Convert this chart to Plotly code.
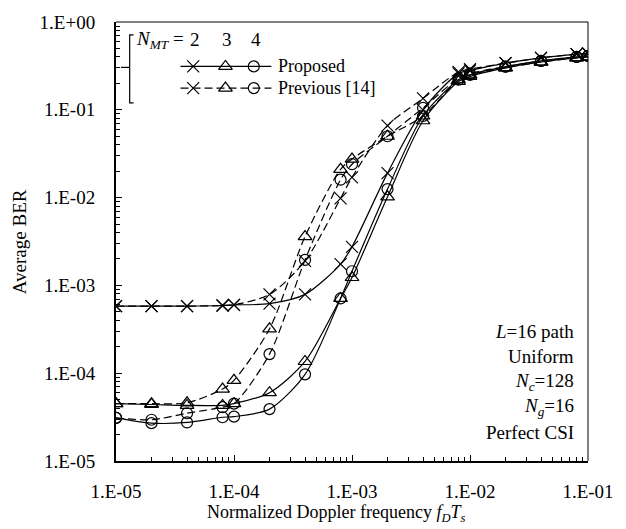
import plotly.graph_objects as go

# ---------------- data ----------------
fdts = [1e-5, 2e-5, 4e-5, 8e-5, 1e-4, 2e-4, 4e-4, 8e-4, 1e-3, 2e-3, 4e-3,
        8e-3, 1e-2, 2e-2, 4e-2, 8e-2, 1e-1]

prop_n2 = [5.8e-4, 5.8e-4, 5.8e-4, 5.9e-4, 6.0e-4, 6.2e-4, 7.9e-4, 1.75e-3, 2.75e-3,
           1.9e-2, 0.10, 0.26, 0.28, 0.34, 0.39, 0.43, 0.44]
prop_n3 = [4.5e-5, 4.4e-5, 4.3e-5, 4.3e-5, 4.5e-5, 6.0e-5, 1.36e-4, 7.1e-4, 1.23e-3,
           1.02e-2, 0.075, 0.21, 0.24, 0.30, 0.35, 0.39, 0.40]
prop_n4 = [3.1e-5, 2.7e-5, 2.75e-5, 3.15e-5, 3.2e-5, 3.9e-5, 9.7e-5, 7.1e-4, 1.45e-3,
           1.25e-2, 0.085, 0.22, 0.25, 0.31, 0.36, 0.40, 0.41]

prev_n2 = [5.8e-4, 5.8e-4, 5.8e-4, 5.9e-4, 6.0e-4, 7.9e-4, 1.9e-3, 9.8e-3, 1.7e-2,
           6.6e-2, 0.135, 0.27, 0.29, 0.34, 0.39, 0.43, 0.44]
prev_n3 = [4.5e-5, 4.5e-5, 4.6e-5, 6.6e-5, 8.3e-5, 3.2e-4, 3.6e-3, 2.1e-2, 2.75e-2,
           5.0e-2, 0.085, 0.22, 0.25, 0.30, 0.35, 0.39, 0.40]
prev_n4 = [3.1e-5, 2.95e-5, 3.5e-5, 4.1e-5, 4.5e-5, 1.65e-4, 1.95e-3, 1.6e-2, 2.4e-2,
           5.0e-2, 0.105, 0.23, 0.26, 0.31, 0.36, 0.40, 0.41]

x_tickvals = [1e-5, 1e-4, 1e-3, 1e-2, 1e-1]
x_ticktext = ["1.E-05", "1.E-04", "1.E-03", "1.E-02", "1.E-01"]
y_tickvals = [1e-5, 1e-4, 1e-3, 1e-2, 1e-1, 1]
y_ticktext = ["1.E-05", "1.E-04", "1.E-03", "1.E-02", "1.E-01", "1.E+00"]

nmt_labels = ["2", "3", "4"]
row_labels = ["Proposed", "Previous [14]"]
info_lines = ["<i>L</i>=16 path", "Uniform", "<i>N</i><sub><i>c</i></sub>=128",
              "<i>N</i><sub><i>g</i></sub>=16", "Perfect CSI"]

# ---------------- styling ----------------
FONT = "Liberation Serif"
W, H = 626, 529
ML, MR, MT_, MB = 116, 27, 16, 68
PW, PH = W - ML - MR, H - MT_ - MB
DASH = "8px,4px"

symbols = ["x-thin-open", "triangle-up-open", "circle-open"]
msizes = [12, 12, 11]

fig = go.Figure()

series = [
    (prop_n2, 0, "solid"), (prop_n3, 1, "solid"), (prop_n4, 2, "solid"),
    (prev_n2, 0, DASH), (prev_n3, 1, DASH), (prev_n4, 2, DASH),
]
for ys, k, dash in series:
    fig.add_trace(go.Scatter(
        x=fdts, y=ys, mode="lines+markers",
        line=dict(color="black", width=1.2, dash=dash, shape="spline", smoothing=0.8),
        marker=dict(symbol=symbols[k], size=msizes[k], color="black",
                    line=dict(color="black", width=1.2)),
        showlegend=False, hoverinfo="skip",
    ))

# ---------------- legend (drawn on a pixel-unit overlay axis) ----------------
leg_rows_y = [45, 67]
leg_line_x = [66, 159]
leg_mark_x = [79, 112, 141]
for r, dash in enumerate(["solid", DASH]):
    fig.add_trace(go.Scatter(
        x=leg_line_x, y=[leg_rows_y[r]] * 2, mode="lines",
        line=dict(color="black", width=1.2, dash=dash),
        xaxis="x2", yaxis="y2", showlegend=False, hoverinfo="skip"))
    for k in range(3):
        fig.add_trace(go.Scatter(
            x=[leg_mark_x[k]], y=[leg_rows_y[r]], mode="markers",
            marker=dict(symbol=symbols[k], size=msizes[k], color="black",
                        line=dict(color="black", width=1.2)),
            xaxis="x2", yaxis="y2", showlegend=False, hoverinfo="skip"))

annotations = []
for r, lab in enumerate(row_labels):
    annotations.append(dict(x=164, y=leg_rows_y[r], xref="x2", yref="y2", text=lab,
                            showarrow=False, xanchor="left", yanchor="middle",
                            font=dict(family=FONT, size=18, color="black")))
annotations.append(dict(x=72, y=18, xref="x2", yref="y2",
                        text="<i>N</i><sub><i>MT</i></sub> =", showarrow=False,
                        xanchor="right", yanchor="middle",
                        font=dict(family=FONT, size=19, color="black")))
for k, lab in enumerate(nmt_labels):
    annotations.append(dict(x=leg_mark_x[k] + 2, y=18, xref="x2", yref="y2", text=lab,
                            showarrow=False, xanchor="center", yanchor="middle",
                            font=dict(family=FONT, size=19, color="black")))

# info text block
for i, t in enumerate(info_lines):
    annotations.append(dict(x=PW - 12, y=314 + i * 25.5, xref="x2", yref="y2", text=t,
                            showarrow=False, xanchor="right", yanchor="middle",
                            font=dict(family=FONT, size=19, color="black")))

# axis titles (pixel positions converted to paper coordinates)
annotations.append(dict(x=(342 - ML) / PW, y=-(514 - MT_ - PH) / PH,
                        xref="paper", yref="paper",
                        text="Normalized Doppler frequency <i>f</i><sub><i>D</i></sub><i>T</i><sub><i>s</i></sub>",
                        showarrow=False, xanchor="center", yanchor="middle",
                        font=dict(family=FONT, size=18, color="black")))
annotations.append(dict(x=(18 - ML) / PW, y=1 - (239 - MT_) / PH,
                        xref="paper", yref="paper", text="Average BER",
                        textangle=-90, showarrow=False, xanchor="center", yanchor="middle",
                        font=dict(family=FONT, size=19, color="black")))

shapes = [
    # top and right frame lines (thin)
    dict(type="line", xref="paper", yref="paper", x0=0, x1=1, y0=1, y1=1,
         line=dict(color="black", width=1)),
    dict(type="line", xref="paper", yref="paper", x0=1, x1=1, y0=0, y1=1,
         line=dict(color="black", width=1)),
    # legend bracket
    dict(type="path", xref="x2", yref="y2",
         path="M 18 13 L 14 13 L 14 82 L 18 82", line=dict(color="black", width=1.2)),
    dict(type="line", xref="x2", yref="y2", x0=5, x1=14, y0=46, y1=46,
         line=dict(color="black", width=1.2)),
]

minor_vals = [m * 10 ** e for e in range(-5, 0) for m in range(2, 10)]

fig.update_layout(
    width=W, height=H, autosize=False,
    margin=dict(l=ML, r=MR, t=MT_, b=MB, pad=0),
    paper_bgcolor="white", plot_bgcolor="white",
    font=dict(family=FONT, size=19, color="black"),
    xaxis=dict(type="log", range=[-5, -1], tickvals=x_tickvals, ticktext=x_ticktext,
               ticks="inside", ticklen=6, tickwidth=1, tickcolor="black",
               showline=True, linewidth=2, linecolor="black", mirror=False,
               showgrid=False, zeroline=False, ticklabelstandoff=12,
               tickfont=dict(family=FONT, size=19, color="black"),
               minor=dict(tickvals=minor_vals, ticks="inside", ticklen=4,
                          tickcolor="black", tickwidth=1, showgrid=False)),
    yaxis=dict(type="log", range=[-5, 0], tickvals=y_tickvals, ticktext=y_ticktext,
               ticks="inside", ticklen=6, tickwidth=1, tickcolor="black",
               showline=True, linewidth=2, linecolor="black", mirror=False,
               showgrid=False, zeroline=False, ticklabelstandoff=15,
               tickfont=dict(family=FONT, size=19, color="black"),
               minor=dict(tickvals=minor_vals, ticks="inside",
                          ticklen=4, tickcolor="black", tickwidth=1, showgrid=False)),
    xaxis2=dict(range=[0, PW], overlaying="x", visible=False, fixedrange=True),
    yaxis2=dict(range=[PH, 0], overlaying="y", visible=False, fixedrange=True),
    annotations=annotations,
    shapes=shapes,
)

fig.write_html("out.html", config={"displayModeBar": False},
               post_script="document.body.style.margin='0';document.body.style.padding='0';")
